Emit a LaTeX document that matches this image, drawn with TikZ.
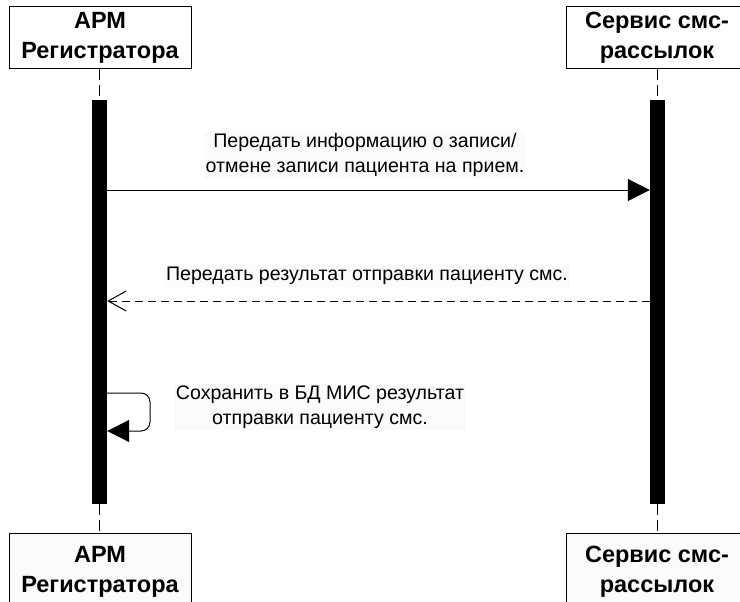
\documentclass[tikz,border=0pt]{standalone}
\usepackage{fontspec}
\setmainfont{Liberation Sans}
\usetikzlibrary{arrows.meta}
\definecolor{labelbg}{RGB}{250,251,252}
\tikzset{
  actor/.style={draw, line width=1pt, minimum width=182pt, minimum height=62pt,
    align=center, inner sep=0pt, font=\bfseries\fontsize{23.5}{30}\selectfont},
  actorlow/.style={actor, fill=labelbg, minimum height=78pt},
  bar/.style={fill=black, draw=none, minimum width=15pt, inner sep=0pt},
  lifeline/.style={line width=1pt, dash pattern=on 11pt off 5pt},
  msg/.style={line width=1pt},
  msglabel/.style={fill=labelbg, align=center, inner sep=2pt,
    font=\fontsize{19.6}{25}\selectfont},
  synctip/.style={-{Triangle[length=22pt,width=22pt]}},
  replytip/.style={-{Straight Barb[length=18pt,width=20pt,line width=1pt]}},
}
\begin{document}
\begin{tikzpicture}[x=1pt,y=-1pt]
\useasboundingbox (0,0) rectangle (740,602);
\begin{scope}
\clip (0,0) rectangle (740,602);

% participants, head and foot
\node[actor] (regTop) at (100,38) {АРМ\\Регистратора};
\node[actor] (smsTop) at (657,38) {Сервис смс-\\рассылок};
\node[actorlow] (regBot) at (100,572) {АРМ\\Регистратора};
\node[actorlow] (smsBot) at (657,572) {Сервис смс-\\рассылок};

% activation bars
\node[bar, minimum height=404pt] (regBar) at (99.5,302) {};
\node[bar, minimum height=404pt] (smsBar) at (657.5,302) {};

% lifelines
\draw[lifeline] (regTop.south -| regBar.north) -- (regBar.north);
\draw[lifeline] (regBar.south) -- (regBot.north -| regBar.south);
\draw[lifeline] (smsTop.south -| smsBar.north) -- (smsBar.north);
\draw[lifeline] (smsBar.south) -- (smsBot.north -| smsBar.south);

% request
\coordinate (reqY) at (0,190);
\draw[msg, synctip] (regBar.east |- reqY) -- (smsBar.west |- reqY);
\node[msglabel] (reqLabel) at (365,155) {Передать информацию о записи/\\отмене записи пациента на прием.};

% reply
\coordinate (repY) at (0,301);
\draw[msg, replytip, dashed, dash pattern=on 8pt off 5pt] (smsBar.west |- repY) -- (regBar.east |- repY);
\node[msglabel] (repLabel) at (367,276) {Передать результат отправки пациенту смс.};

% self call
\coordinate (selfTop) at (150,393);
\coordinate (selfBot) at (150,431);
\draw[msg, synctip, rounded corners=9pt] (regBar.east |- selfTop) -- (selfTop) -- (selfBot) -- (regBar.east |- selfBot);
\node[msglabel] (selfLabel) at (320,407) {Сохранить в БД МИС результат\\отправки пациенту смс.};
\end{scope}
\end{tikzpicture}
\end{document}
